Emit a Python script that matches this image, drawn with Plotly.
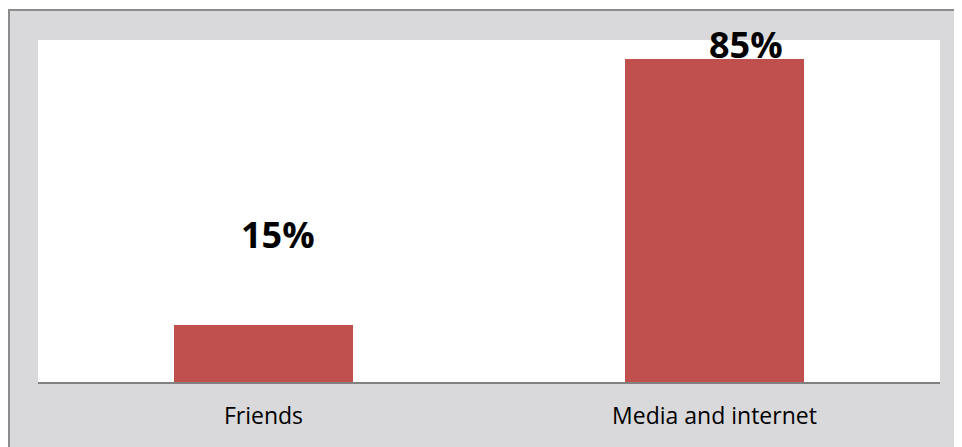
import plotly.graph_objects as go

categories = ["Friends", "Media and internet"]
values = [15, 85]
labels = ["15%", "85%"]

W, H = 954, 439
L, R, T, B = 30, 22, 32, 65
pw, ph = W - L - R, H - T - B

def px_x(x):
    return (x - L) / pw

def px_y(y):
    return (H - B - y) / ph

fig = go.Figure()
fig.add_trace(go.Bar(
    x=categories, y=values,
    marker=dict(color="#C0504D", line=dict(width=0)),
    width=0.397,
    hoverinfo="skip",
))

label_yshift = [91, 15]
label_xshift = [14, 31]
for c, v, t, sy, sx in zip(categories, values, labels, label_yshift, label_xshift):
    fig.add_annotation(x=c, y=v, text="<b>" + t + "</b>", showarrow=False,
                       yanchor="middle", yshift=sy, xshift=sx,
                       font=dict(family="Open Sans", size=36, color="#000000"))

# marble-like background frame
fig.add_shape(type="rect", xref="paper", yref="paper",
              x0=px_x(1), x1=px_x(W + 10), y0=px_y(H + 10), y1=px_y(2),
              fillcolor="#d9d9db", line=dict(color="#8c8c8c", width=2), layer="below")
fig.add_shape(type="rect", xref="paper", yref="paper",
              x0=0, x1=1, y0=0, y1=1,
              fillcolor="#ffffff", line=dict(width=0), layer="below")

fig.update_layout(
    width=W, height=H,
    margin=dict(l=L, r=R, t=T, b=B),
    paper_bgcolor="#ffffff",
    plot_bgcolor="rgba(0,0,0,0)",
    showlegend=False,
    bargap=0.6,
    xaxis=dict(showline=True, linecolor="#808080", linewidth=2, ticks="",
               tickfont=dict(family="Open Sans", size=23, color="#000000"),
               ticklabelstandoff=12, showgrid=False, zeroline=False),
    yaxis=dict(range=[0, 90], visible=False, showgrid=False, zeroline=False),
)

fig.write_html("out.html")
